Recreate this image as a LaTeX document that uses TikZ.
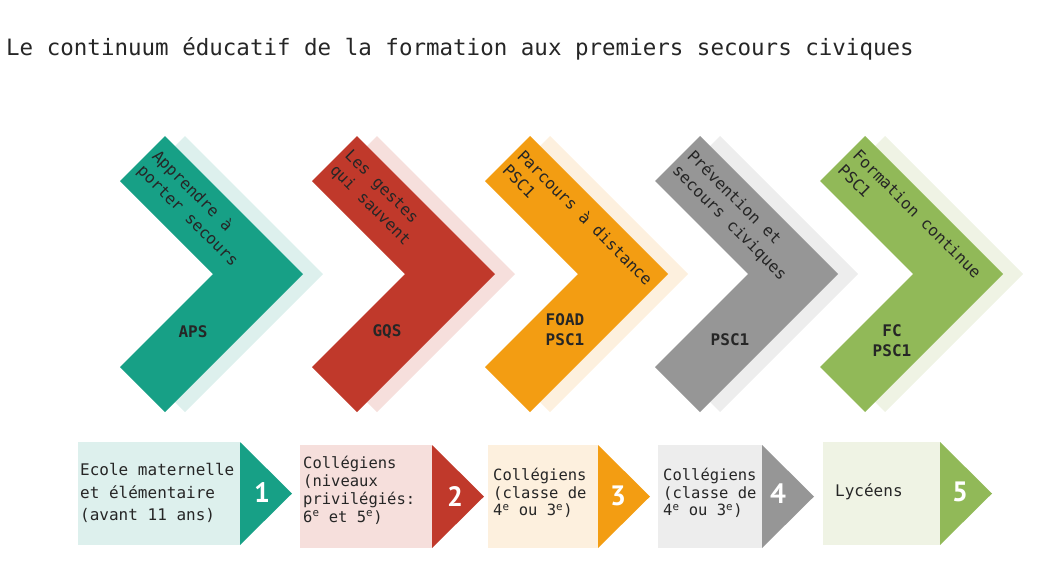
\documentclass[tikz,border=0pt]{standalone}
\usepackage{fontspec}
\setmonofont{DejaVu Sans Mono}
\newfontfamily\digitfont{PT Sans}
\usetikzlibrary{calc,positioning}

\definecolor{aps}{RGB}{23,160,134}
\definecolor{apslight}{RGB}{221,240,237}
\definecolor{gqs}{RGB}{192,57,43}
\definecolor{gqslight}{RGB}{246,223,220}
\definecolor{foad}{RGB}{243,157,18}
\definecolor{foadlight}{RGB}{253,240,222}
\definecolor{psc}{RGB}{150,150,150}
\definecolor{psclight}{RGB}{237,237,237}
\definecolor{fc}{RGB}{145,185,88}
\definecolor{fclight}{RGB}{239,243,228}

\begin{document}
\begin{tikzpicture}[
        x=1pt, y=-1pt,
        ink/.style={text=black!85, inner sep=0pt},
        armtext/.style={ink, rotate=-45, anchor=north west, align=left,
            font=\ttfamily\fontsize{16}{21}\selectfont},
        code/.style={ink, align=center, font=\ttfamily\bfseries\fontsize{16}{20}\selectfont},
        level/.style={ink, anchor=west, align=left, font=\ttfamily\fontsize{15.5}{17.5}\selectfont},
        rank/.style={text=white, inner sep=0pt, font=\digitfont\bfseries\fontsize{28}{28}\selectfont}
    ]
    \useasboundingbox (0,0) rectangle (1059,566);

%%
% Title
    \node (title) [ink, anchor=base west, font=\ttfamily\fontsize{22.5}{27}\selectfont] at (6,55)
        {Le continuum éducatif de la formation aux premiers secours civiques};

%%
% Chevrons: pale copy behind, full colour in front
    \foreach \tip/\col/\pale in {303/aps/apslight, 495/gqs/gqslight, 668/foad/foadlight,
                                 838/psc/psclight, 1003/fc/fclight} {
        \fill[\pale] ({\tip-163},181) -- ({\tip-118},136) -- ({\tip+20},274)
            -- ({\tip-118},412) -- ({\tip-163},367) -- ({\tip-70},274) -- cycle;
        \fill[\col] ({\tip-183},181) -- ({\tip-138},136) -- (\tip,274)
            -- ({\tip-138},412) -- ({\tip-183},367) -- ({\tip-90},274) -- cycle;
    }
    \node (t1) [armtext] at (160.4,147.7) {Apprendre à\\porter secours};
    \node (t2) [armtext] at (352.4,147.7) {Les gestes\\qui sauvent};
    \node (t3) [armtext] at (525.4,147.7) {Parcours à distance\\PSC1};
    \node (t4) [armtext] at (695.4,147.7) {Prévention et\\secours civiques};
    \node (t5) [armtext] at (860.4,147.7) {Formation continue\\PSC1};

    \node (c1) [code] at (193,332) {APS};
    \node (c2) [code] at (387,332) {GQS};
    \node (c3) [code] at (565,330) {FOAD\\PSC1};
    \node (c4) [code] at (730,340) {PSC1};
    \node (c5) [code] at (892,341) {FC\\PSC1};

%%
% Public: pale box and numbered arrow head
    \foreach \xa/\xb/\ya/\col/\pale in {78/240/442/aps/apslight, 300/432/445/gqs/gqslight,
                                        488/598/445/foad/foadlight, 658/762/445/psc/psclight,
                                        823/940/442/fc/fclight} {
        \fill[\pale] (\xa,\ya) rectangle (\xb,{\ya+103});
        \fill[\col] (\xb,\ya) -- ({\xb+52},{\ya+51.5}) -- (\xb,{\ya+103}) -- cycle;
    }
    \node (n1) [rank] at (262,493) {1};
    \node (n2) [rank] at (455,496) {2};
    \node (n3) [rank] at (618,496) {3};
    \node (n4) [rank] at (778,494) {4};
    \node (n5) [rank] at (960,492) {5};

    \node (d1) [level, font=\ttfamily\fontsize{16}{22.5}\selectfont] at (80,493)
        {Ecole maternelle\\et élémentaire\\(avant 11 ans)};
    \node (d2) [level, font=\ttfamily\fontsize{15.5}{18}\selectfont] at (303,490)
        {Collégiens\\(niveaux\\privilégiés:\\6\textsuperscript{e} et 5\textsuperscript{e})};
    \node (d3) [level] at (493,493)
        {Collégiens\\(classe de\\4\textsuperscript{e} ou 3\textsuperscript{e})};
    \node (d4) [level] at (663,493)
        {Collégiens\\(classe de\\4\textsuperscript{e} ou 3\textsuperscript{e})};
    \node (d5) [level, font=\ttfamily\fontsize{16}{20}\selectfont] at (835,492) {Lycéens};

\end{tikzpicture}
\end{document}
